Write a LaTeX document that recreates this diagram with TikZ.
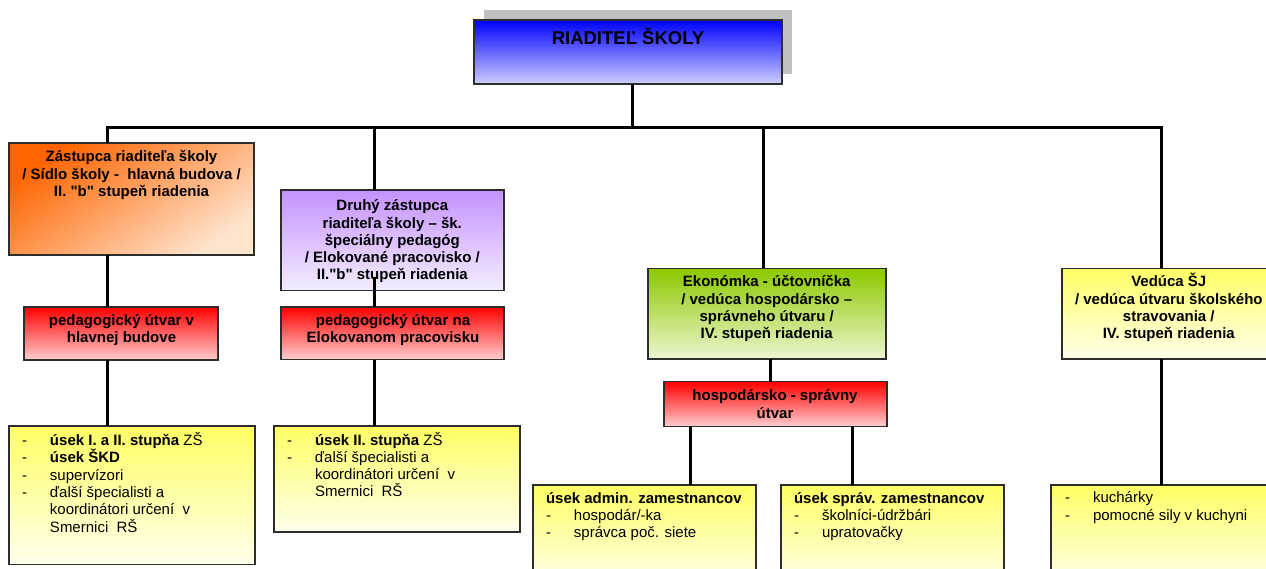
\documentclass[tikz,border=0pt]{standalone}
\usepackage{fontspec}
\setmainfont{Liberation Sans}[Ligatures=TeXOff]
\definecolor{bord}{RGB}{45,45,45}
\definecolor{shad}{RGB}{192,192,192}
\definecolor{blueT}{RGB}{0,0,255}
\definecolor{blueB}{RGB}{206,206,255}
\definecolor{orT}{RGB}{255,100,0}
\definecolor{orB}{RGB}{255,228,205}
\definecolor{puT}{RGB}{196,146,255}
\definecolor{puB}{RGB}{244,237,255}
\definecolor{reT}{RGB}{255,0,0}
\definecolor{reB}{RGB}{255,206,206}
\definecolor{grT}{RGB}{140,200,0}
\definecolor{grB}{RGB}{236,246,208}
\definecolor{yeT}{RGB}{255,255,100}
\definecolor{yeB}{RGB}{255,255,236}
\newcommand\fs{\fontsize{15pt}{17.3pt}\selectfont}
\newcommand\dsh{\makebox[28pt][l]{-}}
\newcommand\ind{\hspace*{28pt}}
\begin{document}
\begin{tikzpicture}[x=1pt,y=-1pt,
  box/.style={draw=bord, line width=1.2pt, inner sep=0pt, outer sep=0pt, anchor=north west},
  conn/.style={line width=3pt, black},
  txt/.style={inner sep=0pt, outer sep=0pt, anchor=base, font=\fs\bfseries},
  ltxt/.style={inner sep=0pt, outer sep=0pt, anchor=base west, font=\fs},
  ]
\useasboundingbox (0,0) rectangle (1266,568);
\clip (0,0) rectangle (1266,568);
\fill[white] (0,0) rectangle (1266,568);
% boxes
\node[fill=shad, inner sep=0pt, outer sep=0pt, anchor=north west, minimum width=308pt, minimum height=64pt] (shadow) at (484,10) {};
\node[box, top color=blueT, bottom color=blueB, minimum width=308pt, minimum height=64pt] (dir) at (474,20) {};
\node[box, top color=orT, bottom color=orB, shading angle=35, minimum width=245pt, minimum height=112pt] (b1) at (9,143) {};
\node[box, top color=puT, bottom color=puB, minimum width=223pt, minimum height=100.5pt] (b2) at (281,190) {};
\node[box, top color=reT, bottom color=reB, minimum width=194pt, minimum height=53pt] (r1) at (24,307) {};
\node[box, top color=reT, bottom color=reB, minimum width=223pt, minimum height=52.5pt] (r2) at (281,307) {};
\node[box, top color=yeT, bottom color=yeB, minimum width=246pt, minimum height=138.5pt] (y1) at (9,426) {};
\node[box, top color=yeT, bottom color=yeB, minimum width=246pt, minimum height=106pt] (y2) at (274,426) {};
\node[box, top color=grT, bottom color=grB, minimum width=238pt, minimum height=90.7pt] (gr) at (648,268.3) {};
\node[box, top color=reT, bottom color=reB, minimum width=223pt, minimum height=44.6pt] (r3) at (664,381.7) {};
\node[box, top color=yeT, bottom color=yeB, minimum width=214pt, minimum height=90.7pt] (sj) at (1062,268.3) {};
\node[box, top color=yeT, bottom color=yeB, minimum width=223pt, minimum height=100pt] (y3) at (533,485) {};
\node[box, top color=yeT, bottom color=yeB, minimum width=223pt, minimum height=100pt] (y4) at (781,485) {};
\node[box, top color=yeT, bottom color=yeB, minimum width=240pt, minimum height=100pt] (y5) at (1051,485) {};
% texts
\node[txt] (dirt) at (628,44) {\fontsize{18.5pt}{20pt}\selectfont RIADITEĽ ŠKOLY};
\node[txt] (b1t) at (131.5,161.7) {\parbox[t]{260pt}{\centering Zástupca riaditeľa školy\\ / Sídlo školy -\ \ hlavná budova /\\ II. "b" stupeň riadenia}};
\node[txt] (b2t) at (392.3,210.7) {\parbox[t]{240pt}{\centering Druhý zástupca\\ riaditeľa školy – šk.\\ špeciálny pedagóg\\ / Elokované pracovisko /\\ II."b" stupeň riadenia}};
\node[txt] (r1t) at (121.5,325.5) {\parbox[t]{220pt}{\centering pedagogický útvar v\\ hlavnej budove}};
\node[txt] (r2t) at (393,325.5) {\parbox[t]{240pt}{\centering pedagogický útvar na\\ Elokovanom pracovisku}};
\node[txt] (grt) at (766.7,286.7) {\parbox[t]{250pt}{\centering Ekonómka - účtovníčka\\ / vedúca hospodársko –\\ správneho útvaru /\\ IV. stupeň riadenia}};
\node[txt] (r3t) at (775,400.7) {\parbox[t]{240pt}{\centering hospodársko - správny\\ útvar}};
\node[txt] (sjt) at (1168.8,286.7) {\parbox[t]{240pt}{\centering Vedúca ŠJ\\ / vedúca útvaru školského\\ stravovania /\\ IV. stupeň riadenia}};
\node[ltxt] (y1t) at (22,445.5) {\parbox[t]{230pt}{\raggedright
  \dsh\textbf{úsek I. a II. stupňa} ZŠ\\
  \dsh\textbf{úsek ŠKD}\\
  \dsh supervízori\\
  \dsh ďalší špecialisti a\\
  \ind koordinátori určení\ \ v\\
  \ind Smernici\ \ RŠ}};
\node[ltxt] (y2t) at (287,445) {\parbox[t]{230pt}{\raggedright
  \dsh\textbf{úsek II. stupňa} ZŠ\\
  \dsh ďalší špecialisti a\\
  \ind koordinátori určení\ \ v\\
  \ind Smernici\ \ RŠ}};
\node[ltxt] (y3t) at (546,503.3) {\parbox[t]{220pt}{\raggedright
  \textbf{úsek admin. zamestnancov}\\
  \dsh hospodár/-ka\\
  \dsh správca poč. siete}};
\node[ltxt] (y4t) at (794,503.3) {\parbox[t]{220pt}{\raggedright
  \textbf{úsek správ. zamestnancov}\\
  \dsh školníci-údržbári\\
  \dsh upratovačky}};
\node[ltxt] (y5t) at (1065,502.7) {\parbox[t]{220pt}{\raggedright
  \dsh kuchárky\\
  \dsh pomocné sily v kuchyni}};
% connectors
\coordinate (barL) at (107.5,127);
\coordinate (barR) at (1161,127);
\coordinate (x0) at (632,127);
\coordinate (d2) at (374,127);
\coordinate (d3) at (763,127);
\coordinate (x3) at (770,370);
\coordinate (x3a) at (690,450);
\coordinate (x3b) at (852,450);
\draw[conn] (dir.south -| x0) -- (x0);
\draw[conn] (b1.north -| barL) -- (barL) -- (barR) -- (sj.north -| barR);
\draw[conn] (d2) -- (b2.north -| d2);
\draw[conn] (d3) -- (gr.north -| d3);
\draw[conn] (b1.south -| barL) -- (r1.north -| barL);
\draw[conn] (r1.south -| barL) -- (y1.north -| barL);
\path (b2.south -| d2) ++(0,-14) coordinate (p2);
\draw[conn] (p2) -- (r2.north -| d2);
\draw[conn] (r2.south -| d2) -- (y2.north -| d2);
\draw[conn] (gr.south -| x3) -- (r3.north -| x3);
\draw[conn] (r3.south -| x3a) -- (y3.north -| x3a);
\draw[conn] (r3.south -| x3b) -- (y4.north -| x3b);
\draw[conn] (sj.south -| barR) -- (y5.north -| barR);
\end{tikzpicture}
\end{document}
